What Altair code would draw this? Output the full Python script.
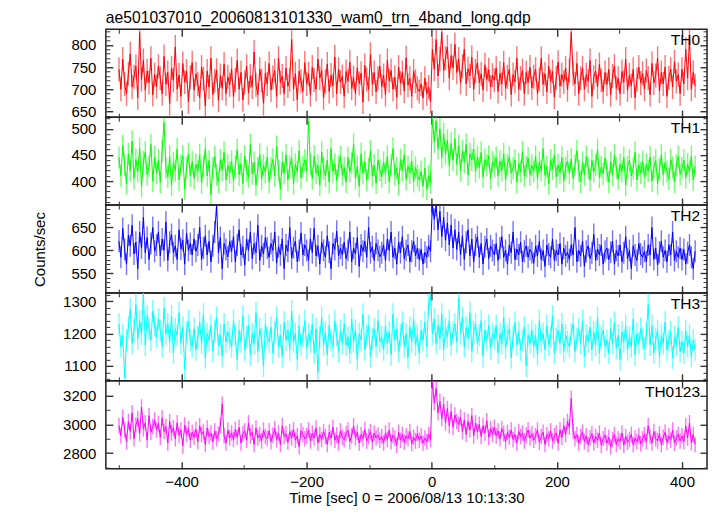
import altair as alt
import pandas as pd

# ---------------- data ----------------
T_START = -500   # time of first bin [s]
T_STEP = 3       # bin spacing [s]

TH0 = [
    745, 700, 768, 712, 690, 735, 780, 705, 728, 752, 681, 828, 722, 765, 698, 741, 715, 770, 688, 733,
    706, 752, 725, 690, 774, 711, 738, 668, 748, 720, 795, 700, 732, 684, 758, 716, 741, 672, 727, 760,
    698, 735, 712, 681, 750, 724, 662, 741, 705, 770, 688, 719, 743, 675, 731, 702, 757, 690, 728, 710,
    746, 684, 721, 765, 700, 738, 676, 715, 752, 692, 730, 705, 784, 710, 688, 745, 720, 668, 736, 712,
    758, 698, 727, 742, 684, 770, 715, 730, 690, 748, 707, 722, 812, 700, 735, 676, 741, 718, 695, 760,
    712, 735, 688, 750, 721, 700, 768, 725, 742, 681, 718, 757, 695, 732, 708, 773, 690, 745, 716, 729,
    684, 740, 718, 761, 702, 726, 690, 748, 713, 736, 671, 754, 722, 700, 779, 711, 738, 694, 725, 752,
    706, 731, 688, 765, 719, 742, 700, 727, 682, 750, 714, 738, 696, 771, 709, 725, 684, 741, 718, 702,
    695, 712, 680, 725, 690, 705, 672, 790, 745, 812, 730, 768, 828, 742, 770, 795, 725, 776, 748, 801,
    738, 768, 715, 752, 790, 712, 746, 730, 772, 700, 741, 760, 715, 735, 698, 755, 722, 744, 705, 732,
    720, 748, 695, 736, 712, 760, 702, 728, 745, 688, 733, 717, 770, 700, 725, 742, 690, 738, 715, 750,
    703, 728, 745, 690, 722, 770, 711, 735, 694, 752, 718, 740, 682, 726, 761, 707, 733, 716, 748, 699,
    742, 828, 735, 712, 758, 690, 725, 748, 700, 733, 718, 765, 684, 727, 741, 705, 756, 720, 695, 738,
    711, 745, 688, 730, 752, 702, 725, 690, 740, 716, 768, 698, 732, 708, 745, 681, 722, 750, 714, 736,
    700, 742, 725, 688, 758, 714, 731, 770, 696, 738, 712, 750, 684, 726, 745, 705, 762, 718, 733, 690,
    745, 712, 790, 725, 815, 700, 738, 708,
]

TH1 = [
    445, 410, 468, 430, 395, 452, 420, 476, 405, 441, 418, 462, 390, 437, 455, 412, 428, 470, 400, 446,
    415, 440, 398, 458, 512, 425, 408, 447, 392, 435, 420, 461, 402, 430, 448, 385, 426, 452, 410, 437,
    405, 432, 418, 450, 396, 428, 462, 410, 439, 374, 425, 447, 412, 398, 440, 421, 455, 402, 430, 416,
    438, 400, 427, 460, 412, 433, 395, 448, 420, 408, 470, 414, 436, 392, 425, 451, 404, 430, 417, 445,
    398, 425, 441, 410, 466, 420, 384, 436, 415, 450, 402, 428, 444, 395, 432, 418, 458, 406, 427, 440,
    420, 514, 432, 405, 448, 415, 430, 392, 455, 424, 410, 440, 398, 462, 418, 433, 401, 429, 447, 412,
    426, 398, 445, 418, 434, 470, 405, 428, 390, 452, 415, 437, 402, 424, 458, 410, 431, 396, 440, 421,
    408, 436, 415, 447, 398, 430, 462, 412, 425, 394, 441, 420, 450, 403, 428, 415, 438, 399, 426, 410,
    402, 418, 390, 425, 384, 410, 396, 522, 475, 515, 462, 500, 445, 490, 452, 478, 430, 472, 440, 481,
    432, 468, 420, 458, 436, 470, 412, 452, 440, 461, 418, 446, 426, 455, 408, 441, 430, 448, 405, 437,
    428, 445, 410, 438, 420, 452, 402, 431, 446, 415, 425, 440, 398, 433, 418, 456, 410, 427, 444, 412,
    430, 418, 447, 405, 436, 420, 462, 411, 428, 395, 440, 423, 450, 408, 431, 416, 445, 400, 426, 438,
    415, 442, 405, 430, 458, 420, 398, 436, 412, 447, 425, 402, 440, 418, 431, 460, 407, 427, 414, 444,
    420, 398, 436, 411, 450, 425, 404, 432, 418, 445, 392, 428, 440, 410, 424, 455, 402, 431, 416, 437,
    408, 432, 419, 446, 400, 427, 440, 395, 422, 450, 412, 435, 418, 404, 441, 426, 398, 430, 447, 413,
    425, 440, 406, 432, 418, 447, 402, 428,
]

TH2 = [
    620, 585, 648, 602, 570, 633, 610, 655, 592, 618, 560, 640, 605, 672, 595, 628, 580, 615, 650, 598,
    612, 640, 588, 625, 600, 662, 578, 618, 635, 595, 610, 580, 645, 603, 622, 570, 638, 600, 615, 590,
    625, 598, 612, 650, 580, 605, 632, 590, 620, 575, 610, 640, 698, 595, 628, 560, 615, 602, 586, 620,
    598, 630, 575, 612, 645, 590, 608, 568, 625, 600, 640, 582, 615, 595, 655, 578, 610, 592, 628, 605,
    585, 615, 600, 640, 572, 608, 590, 625, 560, 612, 598, 650, 583, 606, 620, 575, 600, 638, 590, 612,
    600, 578, 625, 595, 648, 588, 610, 570, 618, 600, 585, 632, 596, 560, 615, 602, 642, 588, 605, 590,
    618, 582, 600, 640, 575, 605, 592, 628, 565, 612, 598, 620, 585, 650, 595, 608, 578, 615, 600, 586,
    595, 612, 578, 625, 600, 640, 585, 605, 570, 618, 595, 630, 582, 600, 612, 575, 598, 620, 588, 605,
    580, 602, 570, 596, 585, 610, 598, 700, 668, 698, 645, 685, 630, 672, 622, 660, 612, 655, 605, 645,
    602, 640, 590, 632, 580, 618, 645, 588, 625, 575, 612, 630, 585, 615, 570, 608, 625, 582, 610, 600,
    590, 615, 578, 605, 630, 585, 600, 570, 612, 595, 640, 580, 603, 590, 618, 575, 598, 610, 585, 602,
    595, 572, 610, 588, 620, 580, 600, 565, 612, 592, 585, 625, 578, 600, 590, 615, 570, 605, 588, 596,
    580, 612, 590, 650, 575, 600, 588, 620, 565, 598, 610, 582, 595, 635, 578, 603, 590, 612, 570, 598,
    605, 580, 596, 620, 570, 600, 588, 612, 575, 595, 630, 582, 600, 560, 610, 590, 578, 615, 592, 585,
    598, 575, 612, 590, 650, 580, 605, 568, 596, 620, 585, 600, 575, 612, 590, 640, 578, 598, 585, 605,
    580, 602, 570, 595, 612, 585, 560, 598,
]

TH3 = [
    1230, 1160, 1195, 1065, 1180, 1220, 1275, 1170, 1210, 1290, 1185, 1240, 1200, 1325, 1165, 1255, 1215, 1180, 1270, 1225,
    1190, 1245, 1210, 1160, 1280, 1200, 1230, 1175, 1255, 1140, 1215, 1195, 1265, 1170, 1220, 1090, 1205, 1240, 1180, 1160,
    1215, 1150, 1190, 1235, 1170, 1260, 1125, 1200, 1180, 1225, 1145, 1210, 1250, 1165, 1195, 1130, 1230, 1175, 1205, 1185,
    1160, 1240, 1195, 1120, 1210, 1175, 1255, 1150, 1190, 1225, 1135, 1200, 1170, 1265, 1145, 1215, 1185, 1100, 1230, 1190,
    1175, 1220, 1140, 1205, 1250, 1160, 1195, 1130, 1235, 1180, 1210, 1150, 1270, 1175, 1200, 1120, 1225, 1165, 1190, 1240,
    1155, 1200, 1175, 1230, 1140, 1215, 1080, 1190, 1250, 1165, 1205, 1135, 1225, 1180, 1160, 1240, 1195, 1145, 1210, 1170,
    1230, 1165, 1190, 1140, 1245, 1175, 1210, 1120, 1200, 1180, 1260, 1150, 1195, 1225, 1130, 1185, 1215, 1160, 1240, 1175,
    1190, 1150, 1225, 1170, 1205, 1135, 1260, 1180, 1215, 1145, 1195, 1235, 1160, 1200, 1125, 1220, 1175, 1245, 1165, 1195,
    1140, 1210, 1180, 1235, 1160, 1290, 1320, 1200, 1245, 1170, 1225, 1185, 1260, 1150, 1215, 1190, 1240, 1165, 1205, 1230,
    1175, 1310, 1200, 1250, 1160, 1220, 1185, 1265, 1145, 1205, 1230, 1170, 1195, 1240, 1130, 1210, 1180, 1225, 1155, 1200,
    1185, 1225, 1140, 1200, 1170, 1250, 1155, 1195, 1215, 1125, 1190, 1235, 1165, 1205, 1150, 1180, 1220, 1100, 1195, 1170,
    1210, 1160, 1195, 1135, 1240, 1175, 1200, 1150, 1225, 1165, 1190, 1255, 1140, 1185, 1210, 1170, 1230, 1145, 1195, 1175,
    1160, 1200, 1230, 1145, 1185, 1215, 1170, 1240, 1130, 1195, 1175, 1220, 1150, 1205, 1165, 1250, 1140, 1190, 1210, 1160,
    1180, 1140, 1215, 1170, 1235, 1155, 1195, 1120, 1205, 1175, 1225, 1150, 1190, 1160, 1245, 1135, 1200, 1170, 1215, 1185,
    1155, 1200, 1290, 1165, 1225, 1140, 1185, 1210, 1130, 1195, 1170, 1235, 1150, 1180, 1205, 1125, 1190, 1165, 1220, 1145,
    1175, 1140, 1210, 1160, 1195, 1130, 1180, 1150,
]

TH0123 = [
    2990, 2920, 3050, 2960, 2880, 3020, 2950, 3080, 2900, 2995, 3040, 2935, 3120, 2970, 3010, 2890, 3060, 2945, 2985, 3030,
    2960, 3005, 2910, 3045, 2950, 2985, 2870, 3020, 2940, 2975, 2900, 3010, 2925, 2960, 2850, 2995, 2930, 2970, 2890, 2945,
    2910, 2965, 2880, 2990, 2930, 2950, 2860, 2975, 2915, 2940, 2880, 2955, 2900, 2935, 2990, 3140, 2920, 2870, 2960, 2905,
    2940, 2895, 2965, 2910, 2980, 2870, 2935, 2955, 2890, 3010, 2920, 2945, 2860, 2975, 2905, 2930, 2885, 2960, 2915, 2900,
    2955, 2880, 2925, 2970, 2895, 2940, 2860, 2990, 2915, 2935, 2875, 2950, 2905, 2965, 2890, 2920, 2845, 2955, 2930, 2900,
    2920, 2960, 2885, 2940, 2905, 2975, 2870, 2930, 2895, 2950, 2915, 2860, 2945, 2905, 2980, 2890, 2925, 2870, 2955, 2910,
    2895, 2935, 2960, 2880, 2920, 2990, 2905, 2945, 2870, 2930, 2900, 2965, 2885, 2915, 2950, 2875, 2940, 2905, 2925, 2890,
    2915, 2870, 2940, 2895, 2960, 2880, 2925, 2905, 2855, 2945, 2890, 2930, 2875, 2920, 2900, 2950, 2865, 2910, 2885, 2935,
    2890, 2920, 2870, 2905, 2880, 2930, 2895, 3300, 3150, 3250, 3080, 3160, 3040, 3140, 3010, 3110, 2990, 3090, 2980, 3065,
    3020, 3000, 3050, 2950, 3030, 2930, 3020, 2960, 3060, 2920, 3010, 2950, 3000, 2915, 2990, 2940, 3025, 2910, 2970, 2930,
    2980, 2920, 2955, 2900, 2970, 2935, 2880, 2945, 2910, 2960, 2895, 2930, 2870, 2950, 2915, 2940, 2885, 2925, 2960, 2905,
    2935, 2890, 2920, 2960, 2875, 2915, 2945, 2860, 2930, 2900, 2955, 2885, 2920, 2940, 2870, 2960, 2910, 2990, 2930, 3020,
    2980, 3180, 2950, 2900, 2930, 2870, 2915, 2945, 2880, 2920, 2860, 2905, 2935, 2870, 2915, 2890, 2940, 2855, 2900, 2925,
    2870, 2910, 2845, 2895, 2930, 2860, 2900, 2880, 2940, 2855, 2915, 2875, 2895, 2930, 2860, 2905, 2880, 2920, 2865, 2900,
    2930, 2880, 2990, 2915, 2870, 2950, 2900, 2885, 2935, 2860, 2910, 2945, 2875, 2920, 2890, 2960, 2870, 2905, 2930, 2885,
    2920, 2880, 2990, 2905, 3010, 2870, 2930, 2860,
]

BAND_NAMES = ["TH0", "TH1", "TH2", "TH3", "TH0123"]
BAND_VALUES = [TH0, TH1, TH2, TH3, TH0123]
BAND_ERRORS = [27, 21, 24, 34, 54]
BAND_COLORS = ["#ff0000", "#00ff00", "#0000ff", "#00ffff", "#ff00ff"]
Y_DOMAINS = [[637, 835], [354, 522], [507, 699], [1054, 1326], [2692, 3302]]
Y_MAJOR = [50, 50, 50, 100, 200]
Y_MINOR = [10, 10, 10, 20, 100]
X_DOMAIN = [-521, 440]
X_MAJOR_TICKS = [-400, -200, 0, 200, 400]
X_MINOR_TICKS = [-500, -300, -100, 100, 300]

TITLE = "ae501037010_20060813101330_wam0_trn_4band_long.qdp"
X_TITLE = "Time [sec] 0 = 2006/08/13 10:13:30"
Y_TITLE = "Counts/sec"

FONT = "Liberation Sans"
W, H = 602, 88
MAJOR_LEN, MINOR_LEN = 7, 4


def tick_axis(orient, values, length, width, labels=False, title=None,
              label_padding=0, title_padding=0):
    """Axis whose ticks point into the plot (negative tick length via expression)."""
    kw = dict(orient=orient, values=values, labels=labels, grid=False, domain=False,
              ticks=True, tickSize=alt.ExprRef(f"-{length}"), tickWidth=width,
              tickColor="#333333", labelPadding=label_padding, labelFlush=False,
              labelOverlap=False, labelFont=FONT, labelFontSize=15, labelColor="black",
              format="d")
    if title:
        kw.update(title=title, titleFont=FONT, titleFontSize=15, titleFontWeight="normal",
                  titleColor="black", titlePadding=title_padding)
    else:
        kw["title"] = None
    return alt.Axis(**kw)


def panel(k):
    vals = BAND_VALUES[k]
    err = BAND_ERRORS[k]
    color = BAND_COLORS[k]
    df = pd.DataFrame({"t": [T_START + T_STEP * i for i in range(len(vals))], "rate": vals})
    df["lo"] = df["rate"] - err
    df["hi"] = df["rate"] + err

    lo_d, hi_d = Y_DOMAINS[k]
    mn, mj = Y_MINOR[k], Y_MAJOR[k]
    all_vals = list(range((lo_d // mn + 1) * mn, hi_d + 1, mn))
    y_major = [v for v in all_vals if v % mj == 0]
    y_minor = [v for v in all_vals if v % mj != 0]
    bottom = k == len(BAND_NAMES) - 1

    xs = alt.Scale(domain=X_DOMAIN, nice=False, zero=False)
    ys = alt.Scale(domain=Y_DOMAINS[k], nice=False, zero=False)
    base = alt.Chart(df)

    bars = base.mark_rule(color=color, opacity=0.55, strokeWidth=1.4, clip=True).encode(
        x=alt.X("t:Q", scale=xs,
                axis=tick_axis("bottom", X_MAJOR_TICKS, MAJOR_LEN, 1.4, bottom,
                               X_TITLE if bottom else None, 6 + MAJOR_LEN, 1)),
        y=alt.Y("lo:Q", scale=ys,
                axis=tick_axis("left", y_major, MAJOR_LEN, 1.4, True,
                               Y_TITLE if k == 2 else None, 10 + MAJOR_LEN, 23)),
        y2="hi:Q",
    )
    line = base.mark_line(color=color, strokeWidth=1, clip=True).encode(
        x=alt.X("t:Q", scale=xs, axis=tick_axis("bottom", X_MINOR_TICKS, MINOR_LEN, 1)),
        y=alt.Y("rate:Q", scale=ys, axis=tick_axis("left", y_minor, MINOR_LEN, 1)),
    )
    ghost_major = base.mark_line(opacity=0).encode(
        x=alt.X("t:Q", scale=xs, axis=tick_axis("top", X_MAJOR_TICKS, MAJOR_LEN, 1.4)),
        y=alt.Y("rate:Q", scale=ys, axis=tick_axis("right", y_major, MAJOR_LEN, 1.4)),
    )
    ghost_minor = base.mark_line(opacity=0).encode(
        x=alt.X("t:Q", scale=xs, axis=tick_axis("top", X_MINOR_TICKS, MINOR_LEN, 1)),
        y=alt.Y("rate:Q", scale=ys, axis=tick_axis("right", y_minor, MINOR_LEN, 1)),
    )
    label = alt.Chart(pd.DataFrame({"band": [BAND_NAMES[k]]})).mark_text(
        align="right", baseline="alphabetic", font=FONT, fontSize=15.5, color="black"
    ).encode(x=alt.value(W - 7), y=alt.value(16), text="band:N")

    ch = alt.layer(bars, line, ghost_major, ghost_minor, label).resolve_axis(
        x="independent", y="independent").properties(width=W, height=H)
    if k == 0:
        ch = ch.properties(title=alt.TitleParams(
            text=TITLE, anchor="start", frame="group", font=FONT, fontSize=15.7,
            fontWeight="normal", color="black", offset=2))
    return ch


chart = alt.vconcat(*[panel(k) for k in range(len(BAND_NAMES))], spacing=0, bounds="flush").properties(
    padding={"left": 24, "top": 0, "right": 0, "bottom": 0},
    background="white",
).configure_view(stroke="#222222", strokeWidth=1.5)

chart.save("out.html", embed_options={"renderer": "svg", "actions": False})
